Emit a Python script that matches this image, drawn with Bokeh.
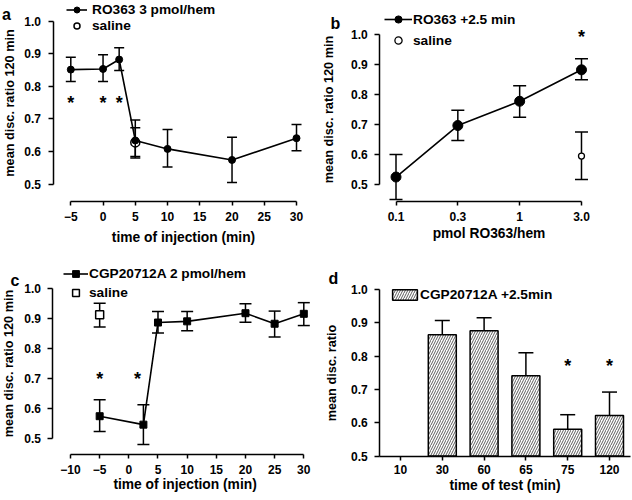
from bokeh.plotting import figure
from bokeh.models import (ColumnDataSource, Range1d, FixedTicker, PrintfTickFormatter,
                          Legend, LegendItem, Label)
from bokeh.layouts import row, column
from bokeh.core.properties import value
from bokeh.embed import file_html
from bokeh.resources import INLINE

FONT = "Liberation Sans"

# ---------------- data: panel a ----------------
a_time = [-5, 0, 2.5, 5, 10, 20, 30]
a_mean = [0.852, 0.854, 0.883, 0.634, 0.608, 0.574, 0.641]
a_low = [0.815, 0.815, 0.849, 0.580, 0.552, 0.505, 0.602]
a_high = [0.890, 0.898, 0.919, 0.697, 0.668, 0.644, 0.683]
a_sal_time = [5]
a_sal_mean = [0.628]
a_sal_low = [0.585]
a_sal_high = [0.673]
a_star_x = [-5, 0, 2.5]
a_star_y = [0.748, 0.748, 0.748]
a_xticks = [-5, 0, 5, 10, 15, 20, 25, 30]

# ---------------- data: panel b ----------------
b_doses = ["0.1", "0.3", "1", "3.0"]
b_mean = [0.525, 0.697, 0.778, 0.883]
b_low = [0.450, 0.647, 0.725, 0.850]
b_high = [0.600, 0.748, 0.830, 0.920]
b_sal_dose = ["3.0"]
b_sal_mean = [0.595]
b_sal_low = [0.517]
b_sal_high = [0.675]
b_star_dose = ["3.0"]
b_star_y = [0.993]

# ---------------- data: panel c ----------------
c_time = [-5, 2.5, 5, 10, 20, 25, 30]
c_mean = [0.575, 0.547, 0.886, 0.890, 0.917, 0.882, 0.915]
c_low = [0.524, 0.481, 0.851, 0.859, 0.887, 0.838, 0.876]
c_high = [0.630, 0.613, 0.923, 0.923, 0.948, 0.924, 0.952]
c_sal_time = [-5]
c_sal_mean = [0.912]
c_sal_low = [0.871]
c_sal_high = [0.950]
c_star_x = [-5, 1.5]
c_star_y = [0.700, 0.700]
c_xticks = [-10, -5, 0, 5, 10, 15, 20, 25, 30]

# ---------------- data: panel d ----------------
d_tests = ["10", "30", "60", "65", "75", "120"]
d_mean = [None, 0.864, 0.876, 0.741, 0.580, 0.622]
d_high = [None, 0.907, 0.915, 0.810, 0.624, 0.692]
d_star_test = ["75", "120"]
d_star_y = [0.771, 0.771]

y_ticks = [0.5, 0.6, 0.7, 0.8, 0.9, 1.0]

W, H = 316, 250


def make_fig(xr, yr, yaxis_x, xaxis_y):
    p = figure(width=W, height=H, x_range=Range1d(*xr), y_range=Range1d(*yr),
               output_backend="svg", toolbar_location=None,
               min_border_left=0, min_border_right=0, min_border_top=0, min_border_bottom=0)
    p.grid.visible = False
    p.outline_line_color = None
    for ax in (p.xaxis[0], p.yaxis[0]):
        ax.axis_line_width = 1.5
        ax.axis_line_color = "black"
        ax.major_tick_line_width = 1.5
        ax.major_tick_line_color = "black"
        ax.major_tick_in = 0
        ax.minor_tick_line_color = None
        ax.major_label_text_font = FONT
        ax.major_label_text_font_style = "bold"
        ax.major_label_text_font_size = "12px"
        ax.major_label_text_color = "black"
        ax.axis_label_text_font = FONT
        ax.axis_label_text_font_style = "bold"
        ax.axis_label_text_color = "black"
    p.xaxis.axis_label_text_font_size = "13.8px"
    p.yaxis.axis_label_text_font_size = "12.7px"
    p.yaxis.fixed_location = yaxis_x
    p.xaxis.fixed_location = xaxis_y
    p.yaxis.major_tick_out = 5
    p.xaxis.major_tick_out = 4
    p.yaxis.ticker = FixedTicker(ticks=y_ticks)
    p.yaxis.formatter = PrintfTickFormatter(format="%.1f")
    p.yaxis.bounds = (0.5, 1.0)
    p.yaxis.major_label_standoff = 7
    return p


def px2data(p, px, py):
    xr, yr = p.x_range, p.y_range
    x = xr.start + px / W * (xr.end - xr.start)
    y = yr.end - py / H * (yr.end - yr.start)
    return x, y


def errbars(p, x, lo, hi, cap, lw=1.5):
    p.segment(x0=x, y0=lo, x1=x, y1=hi, line_color="black", line_width=lw)
    p.scatter(x=x, y=hi, marker="dash", size=cap, line_color="black", line_width=lw)
    p.scatter(x=x, y=lo, marker="dash", size=cap, line_color="black", line_width=lw)


def stars(p, x, y, size="18px"):
    p.text(x=x, y=y, text=["*"] * len(x), text_font=value(FONT), text_font_style="bold",
           text_font_size=size, text_align="center", text_baseline="middle", text_color="black")


def panel_label(p, txt, px, py):
    x, y = px2data(p, px, py)
    p.add_layout(Label(x=x, y=y, text=txt,
                       text_font=FONT, text_font_style="bold", text_font_size="16px",
                       text_align="left", text_baseline="alphabetic", text_color="black"))


def make_legend(items, loc, gw, gh, lh, spacing, standoff):
    return Legend(items=items, location=loc, glyph_width=gw, glyph_height=gh,
                  label_height=lh, label_width=10, spacing=spacing, label_standoff=standoff,
                  padding=0, margin=0, border_line_color=None, background_fill_alpha=0,
                  label_text_font=FONT, label_text_font_style="bold",
                  label_text_font_size="13.7px", label_text_color="black")


# ================= panel a =================
pa = make_fig((-15.901, 33.099), (0.2954, 1.0646), -7.760, 0.4462)
pa.xaxis.ticker = FixedTicker(ticks=a_xticks)
pa.xaxis.bounds = (-5, 30)
pa.xaxis.axis_label = "time of injection (min)"
pa.xaxis.major_label_standoff = 7
pa.xaxis.axis_label_standoff = 5
pa.yaxis.axis_label = "mean disc. ratio 120 min"
pa.yaxis.axis_label_standoff = 5

errbars(pa, a_sal_time, a_sal_low, a_sal_high, 10)
ra_sal = pa.scatter(a_sal_time, a_sal_mean, marker="circle", size=9, fill_color="white",
                    line_color="black", line_width=1.5)
errbars(pa, a_time, a_low, a_high, 10)
ra_line = pa.line(a_time, a_mean, line_color="black", line_width=1.6)
ra_pts = pa.scatter(a_time, a_mean, marker="circle", size=7, fill_color="black", line_color="black")
stars(pa, a_star_x, a_star_y)
pa.add_layout(make_legend([LegendItem(label="RO363 3 pmol/hem", renderers=[ra_line, ra_pts]),
                           LegendItem(label="saline", renderers=[ra_sal])],
                          (66, 217), 21, 15, 15, 1, 5))
panel_label(pa, "a", 1.5, 13.5)

# ================= panel b =================
b_x = [b_doses.index(d) for d in b_doses]
b_sal_x = [b_doses.index(d) for d in b_sal_dose]
b_star_x = [b_doses.index(d) for d in b_star_dose]
pb = make_fig((-1.2858, 3.825), (0.2796, 1.11456), -0.2620, 0.4442)
pb.xaxis.ticker = FixedTicker(ticks=b_x)
pb.xaxis.major_label_overrides = {i: d for i, d in zip(b_x, b_doses)}
pb.xaxis.bounds = (b_x[0], b_x[-1])
pb.xaxis.axis_label = "pmol RO363/hem"
pb.xaxis.major_label_standoff = 7
pb.xaxis.axis_label_standoff = 1
pb.yaxis.axis_label = "mean disc. ratio 120 min"
pb.yaxis.axis_label_standoff = 12

errbars(pb, b_x, b_low, b_high, 13)
rb_line = pb.line(b_x, b_mean, line_color="black", line_width=1.6)
rb_pts = pb.scatter(b_x, b_mean, marker="circle", size=10, fill_color="black", line_color="black")
errbars(pb, b_sal_x, b_sal_low, b_sal_high, 13)
rb_sal = pb.scatter(b_sal_x, b_sal_mean, marker="circle", size=6, fill_color="white",
                    line_color="black", line_width=1.3)
stars(pb, b_star_x, b_star_y)
pb.add_layout(make_legend([LegendItem(label="RO363 +2.5 min", renderers=[rb_line, rb_pts]),
                           LegendItem(label="saline", renderers=[rb_sal])],
                          (68, 201), 28, 18, 18, 3, 1))
panel_label(pb, "b", 14, 23)

# ================= panel c =================
pc = make_fig((-22.002, 32.178), (0.29516, 1.12517), -13.001, 0.4469)
pc.xaxis.ticker = FixedTicker(ticks=c_xticks)
pc.xaxis.bounds = (-10, 30)
pc.xaxis.axis_label = "time of injection  (min)"
pc.xaxis.major_label_standoff = 6
pc.xaxis.axis_label_standoff = 0
pc.yaxis.axis_label = "mean disc. ratio 120 min"
pc.yaxis.axis_label_standoff = 5

errbars(pc, c_time, c_low, c_high, 12)
rc_line = pc.line(c_time, c_mean, line_color="black", line_width=1.6)
rc_pts = pc.scatter(c_time, c_mean, marker="square", size=7, fill_color="black", line_color="black")
errbars(pc, c_sal_time, c_sal_low, c_sal_high, 12)
rc_sal = pc.scatter(c_sal_time, c_sal_mean, marker="square", size=8, fill_color="white",
                    line_color="black", line_width=1.5)
stars(pc, c_star_x, c_star_y)
pc.add_layout(make_legend([LegendItem(label="CGP20712A 2 pmol/hem", renderers=[rc_line, rc_pts]),
                           LegendItem(label="saline", renderers=[rc_sal])],
                          (63, 199), 25, 17, 17, 2, 1))
panel_label(pc, "c", 10, 30)

# ================= panel d =================
d_idx = [i for i, m in enumerate(d_mean) if m is not None]
d_src = ColumnDataSource(dict(x=d_idx, top=[d_mean[i] for i in d_idx],
                              high=[d_high[i] for i in d_idx]))
d_star_x = [d_tests.index(t) for t in d_star_test]
pd_ = make_fig((-2.0096, 5.5502), (0.36637, 1.11712), -0.4952, 0.5)
pd_.xaxis.ticker = FixedTicker(ticks=list(range(len(d_tests))))
pd_.xaxis.major_label_overrides = {i: t for i, t in enumerate(d_tests)}
pd_.xaxis.bounds = (-0.4952, 5.502)
pd_.xaxis.axis_label = "time of test (min)"
pd_.xaxis.major_label_standoff = 5
pd_.xaxis.axis_label_standoff = 0
pd_.yaxis.axis_label = "mean disc. ratio"
pd_.yaxis.axis_label_standoff = 9

pd_.segment(x0="x", y0="top", x1="x", y1="high", source=d_src, line_color="black", line_width=1.5)
pd_.scatter(x="x", y="high", source=d_src, marker="dash", size=15, line_color="black", line_width=1.5)
rd_bars = pd_.vbar(x="x", top="top", bottom=0.5, width=0.67, source=d_src,
                   fill_color="white", line_color="black", line_width=1.5,
                   hatch_pattern="/", hatch_scale=5, hatch_weight=0.8, hatch_color="#333333")
stars(pd_, d_star_x, d_star_y)
pd_.add_layout(make_legend([LegendItem(label="CGP20712A +2.5min", renderers=[rd_bars])],
                           (73, 198), 31, 13, 15, 0, 0))
panel_label(pd_, "d", 12, 28)

layout = column(row(pa, pb), row(pc, pd_))
open("out.html", "w").write(file_html(layout, INLINE))
